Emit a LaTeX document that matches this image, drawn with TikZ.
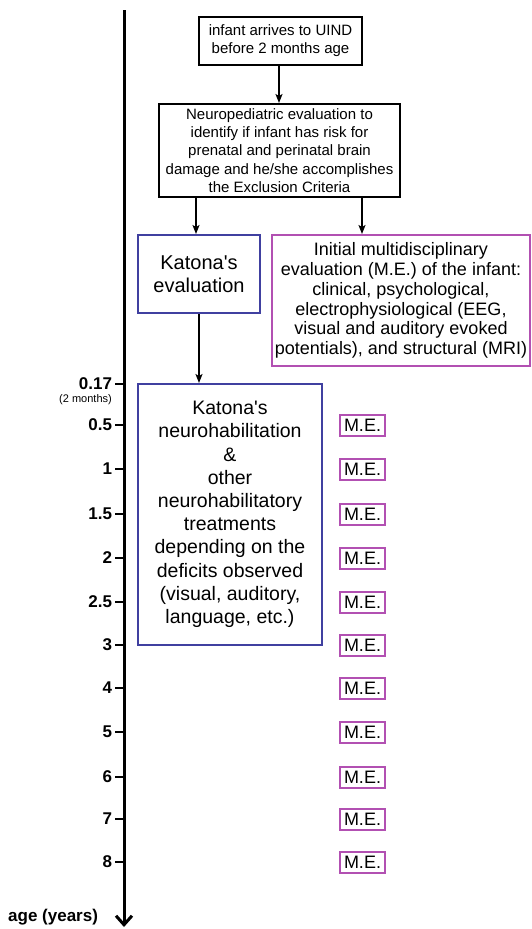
\documentclass[tikz,border=0pt]{standalone}
\usepackage{fontspec}
\setmainfont{Liberation Sans}[Ligatures=TeXOff]
\usetikzlibrary{arrows.meta}
\definecolor{kblue}{RGB}{64,64,160}
\definecolor{kmag}{RGB}{178,80,178}
\tikzset{
  blackbox/.style={draw=black, line width=2pt, inner sep=0pt, align=center,
    font=\fontsize{15}{18.2}\selectfont},
  bluebox/.style={draw=kblue, line width=2pt, inner sep=0pt, align=center},
  magbox/.style={draw=kmag, line width=2pt, inner sep=0pt, align=center},
  mebox/.style={draw=kmag, line width=2pt, inner sep=0pt, minimum width=45pt,
    minimum height=21pt, font=\fontsize{18}{20}\selectfont},
  flow/.style={line width=1.5pt, -{Stealth[length=9pt,width=7pt,inset=2pt]}},
  axis/.style={line width=3pt, -{Straight Barb[length=9pt,width=16pt,line width=3pt]}},
  tick/.style={line width=2pt},
  ticklab/.style={anchor=east, inner sep=0pt, font=\fontsize{17}{18}\selectfont\bfseries}
}
\begin{document}
\begin{tikzpicture}[x=1pt,y=-1pt]
\useasboundingbox (0,0) rectangle (532,929);
% axis
\coordinate (atop) at (124,10);
\coordinate (abot) at (124,927);
\draw[axis] (atop) -- (abot);
% boxes
\node[blackbox, minimum width=163pt, minimum height=48pt] (b1) at (280.5,41)
  {infant arrives to UIND\\before 2 months age};
\node[blackbox, minimum width=241pt, minimum height=93pt] (b2) at (279.5,150.5)
  {Neuropediatric evaluation to\\identify if infant has risk for\\prenatal and perinatal brain\\damage and he/she accomplishes\\the Exclusion Criteria};
\node[bluebox, minimum width=122pt, minimum height=78pt, font=\fontsize{20}{23}\selectfont] (k1) at (199,274)
  {Katona's\\evaluation};
\node[magbox, minimum width=258pt, minimum height=131pt, font=\fontsize{18}{19.7}\selectfont] (me0) at (401,300.5)
  {Initial multidisciplinary\\evaluation (M.E.) of the infant:\\clinical, psychological,\\electrophysiological (EEG,\\visual and auditory evoked\\potentials), and structural (MRI)};
\node[bluebox, minimum width=184pt, minimum height=261pt, font=\fontsize{19.5}{23.2}\selectfont] (k2) at (230,514.5)
  {Katona's\\neurohabilitation\\\&\\other\\neurohabilitatory\\treatments\\depending on the\\deficits observed\\(visual, auditory,\\language, etc.)};
% connectors
\coordinate (xa) at (196,0);
\coordinate (xb) at (362,0);
\coordinate (xc) at (199,0);
\coordinate (xd) at (279,0);
\draw[flow] (b1.south -| xd) -- (b2.north -| xd);
\draw[flow] (b2.south -| xa) -- (k1.north -| xa);
\draw[flow] (b2.south -| xb) -- (me0.north -| xb);
\draw[flow] (k1.south -| xc) -- (k2.north -| xc);
% ticks
\foreach \lab/\yy [count=\i] in {0.17/384,0.5/425,1/469,1.5/514,2/558,2.5/602,3/645,4/688,5/732,6/777,7/819,8/862}{
  \coordinate (t\i) at (124,\yy);
  \draw[tick] (t\i) -- ++(-9,0) node[ticklab, xshift=-2pt] (l\i) {\lab};
}
\node[anchor=east, inner sep=0pt, font=\fontsize{11}{12}\selectfont] (twom) at (112,400) {(2 months)};
\foreach \yy [count=\i] in {425,469,514,558,602,645,688,732,777,819,862}{
  \node[mebox] (m\i) at (362.5,\yy) {M.E.};
}
\node[anchor=west, inner sep=0pt, font=\fontsize{17}{19}\selectfont\bfseries] (agelab) at (8,917) {age (years)};
\end{tikzpicture}
\end{document}
